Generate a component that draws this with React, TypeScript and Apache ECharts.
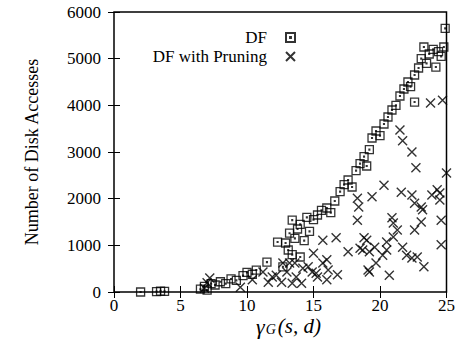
import React, { useEffect, useRef } from "react";
import * as echarts from "echarts";

const seriesNames = ["DF", "DF with Pruning"];

const dfPoints: [number, number][] = [
  [2, 0], [3.2, 10], [3.5, 20], [3.8, 15], [6.5, 60], [6.8, 120], [7.0, 40], [7.3, 180],
  [7.6, 150], [8.0, 220], [8.4, 180], [8.8, 280], [9.2, 250], [9.7, 350], [10.0, 420],
  [10.4, 380], [10.7, 470], [11.5, 640], [12.3, 1070], [12.7, 540], [12.9, 1050],
  [13.1, 900], [13.2, 1260], [13.4, 1540], [13.4, 800], [13.6, 1150], [13.8, 1350],
  [14.0, 750], [14.0, 1450], [14.3, 1100], [14.5, 1600], [14.7, 1300], [15.0, 1550],
  [15.3, 1650], [15.6, 1750], [16.0, 1800], [16.3, 1700], [16.6, 1950], [17.0, 2150],
  [17.3, 2300], [17.6, 2400], [17.9, 2250], [18.2, 2600], [18.5, 2750], [18.8, 2900],
  [19.0, 2700], [19.2, 3050], [19.4, 3300], [19.7, 3450], [20.0, 3350], [20.3, 3600],
  [20.6, 3750], [20.9, 3900], [21.2, 4000], [21.5, 4200], [21.8, 4350], [22.1, 4500],
  [22.3, 4400], [22.6, 4070], [22.6, 4650], [22.9, 4800], [23.1, 5000], [23.3, 5250],
  [23.5, 4900], [23.7, 5100], [24.0, 5200], [24.2, 4820], [24.4, 5150], [24.6, 5050],
  [24.8, 5250], [24.9, 5650],
];

const pruningPoints: [number, number][] = [
  [6.8, 80], [7.0, 200], [7.2, 300], [9.5, 100], [10.4, 260], [11.2, 430], [11.6, 210],
  [11.9, 320], [12.2, 360], [12.6, 210], [12.7, 620], [13.0, 430], [13.2, 620], [13.4, 190],
  [13.6, 620], [13.7, 320], [14.1, 190], [14.2, 510], [14.6, 540], [14.9, 430], [15.0, 830],
  [15.2, 400], [15.3, 320], [15.7, 620], [15.7, 1110], [16.0, 260], [16.0, 690], [16.1, 470],
  [16.7, 1160], [16.8, 370], [17.6, 860], [18.3, 2010], [18.3, 1540], [18.4, 1820],
  [18.5, 940], [18.7, 900], [18.8, 1160], [19.0, 1110], [19.1, 470], [19.2, 860], [19.2, 430],
  [19.4, 2040], [19.6, 960], [19.7, 620], [20.2, 790], [20.3, 2290], [20.5, 1070], [20.5, 900],
  [20.7, 360], [20.9, 1590], [21.0, 1180], [21.0, 1480], [21.3, 1330], [21.5, 3470],
  [21.6, 2140], [21.7, 3240], [21.7, 960], [22.0, 790], [22.4, 3000], [22.4, 2080], [22.4, 730],
  [22.6, 1900], [22.6, 1330], [22.7, 2660], [22.8, 750], [23.1, 1500], [23.1, 1820],
  [23.2, 1760], [23.3, 540], [23.8, 4050], [23.9, 2080], [24.3, 2190], [24.5, 2120],
  [24.5, 1970], [24.6, 1540], [24.6, 1010], [24.7, 4110], [25.0, 2550],
];

const xRange = { min: 0, max: 25, interval: 5 };
const yRange = { min: 0, max: 6000, interval: 1000 };

const SERIF = "Liberation Serif";
const SQUARE = "path://M0,0H10V10H0ZM4.5,4.5H5.5V5.5H4.5Z";
const CROSS = "path://M0,0L10,10M10,0L0,10";

export default function App() {
  const ref = useRef<HTMLDivElement>(null);
  useEffect(() => {
    if (!ref.current) return;
    const chart = echarts.init(ref.current, undefined, { renderer: "svg" });
    const tick = { show: true, inside: true, length: 6, lineStyle: { color: "#000", width: 1 } };
    const baseX = {
      type: "value" as const,
      ...xRange,
      axisLine: { show: false },
      splitLine: { show: false },
      axisTick: tick,
    };
    const baseY = {
      type: "value" as const,
      ...yRange,
      axisLine: { show: false },
      splitLine: { show: false },
      axisTick: tick,
    };
    const labelStyle = { fontFamily: SERIF, fontSize: 17, color: "#000" };
    chart.setOption({
      animation: false,
      backgroundColor: "#fff",
      textStyle: { fontFamily: SERIF, color: "#000" },
      grid: {
        left: 114,
        right: 11,
        top: 12,
        bottom: 56,
        show: true,
        borderColor: "#000",
        borderWidth: 1.5,
        backgroundColor: "transparent",
      },
      legend: {
        orient: "vertical",
        align: "right",
        right: 157,
        top: 24,
        itemGap: 2,
        itemWidth: 9,
        itemHeight: 9,
        data: seriesNames,
        textStyle: { fontFamily: SERIF, fontSize: 17, color: "#000", padding: [0, 14, 0, 0] },
      },
      xAxis: [
        {
          ...baseX,
          position: "bottom",
          axisLabel: { show: true, ...labelStyle, margin: 5, formatter: (v: number) => String(v) },
        },
        { ...baseX, position: "top", axisLabel: { show: false } },
      ],
      yAxis: [
        {
          ...baseY,
          position: "left",
          name: "Number of Disk Accesses",
          nameLocation: "middle",
          nameGap: 73,
          nameTextStyle: { fontFamily: SERIF, fontSize: 18, color: "#000" },
          axisLabel: { show: true, ...labelStyle, margin: 13, formatter: (v: number) => String(v) },
        },
        { ...baseY, position: "right", axisLabel: { show: false } },
      ],
      graphic: [
        {
          type: "text",
          left: 256,
          top: 315,
          style: {
            text: "{g|γ}{sub|G}{i|(s, d)}",
            fill: "#000",
            rich: {
              g: { fontFamily: SERIF, fontStyle: "italic", fontSize: 22, lineHeight: 20, fill: "#000" },
              sub: { fontFamily: SERIF, fontStyle: "italic", fontSize: 14, lineHeight: 12, verticalAlign: "bottom", fill: "#000", padding: [0, 2, 0, 1] },
              i: { fontFamily: SERIF, fontStyle: "italic", fontSize: 21, lineHeight: 20, fill: "#000" },
            },
          },
        },
      ],
      series: [
        {
          name: seriesNames[0],
          type: "scatter",
          data: dfPoints,
          symbol: SQUARE,
          symbolSize: 8,
          itemStyle: { color: "rgba(0,0,0,0)", borderColor: "#000", borderWidth: 1.3 },
          emphasis: { disabled: true },
        },
        {
          name: seriesNames[1],
          type: "scatter",
          data: pruningPoints,
          symbol: CROSS,
          symbolSize: 9,
          itemStyle: { color: "rgba(0,0,0,0)", borderColor: "#000", borderWidth: 1.4 },
          emphasis: { disabled: true },
        },
      ],
    });
    return () => chart.dispose();
  }, []);
  return (
    <div
      ref={ref}
      style={{ position: "absolute", left: 0, top: 0, width: 458, height: 348 }}
    />
  );
}
